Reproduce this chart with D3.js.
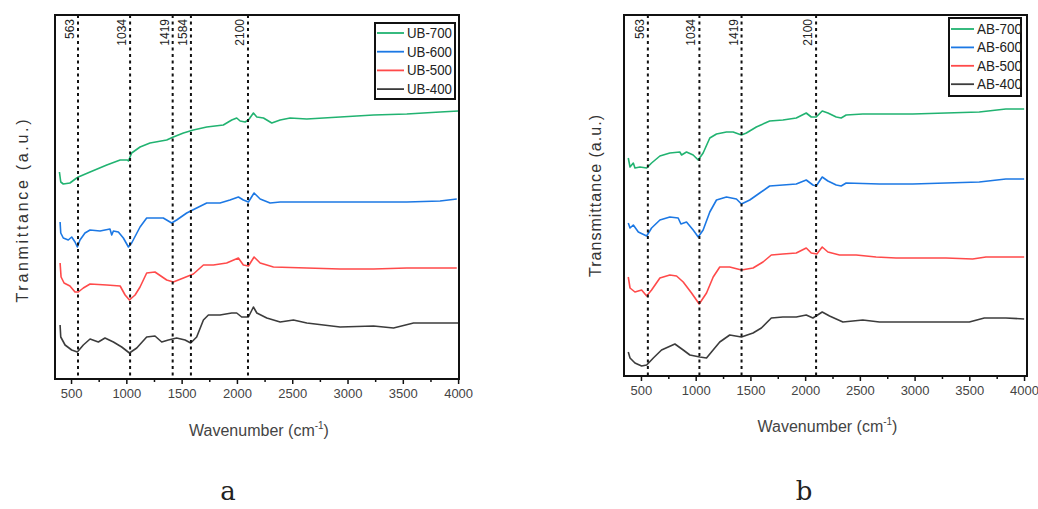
<!DOCTYPE html>
<html>
<head>
<meta charset="utf-8">
<script src="https://cdn.jsdelivr.net/npm/d3@7"></script>
<style>
  body { margin: 0; background: #fff; }
  svg { display: block; font-family: "Liberation Sans", Arial, sans-serif; }
</style>
</head>
<body>
<script>
// ---- data: [wavenumber, transmittance (a.u., offset)] ----
const ub700 = [[395,207],[407,197],[430,195],[490,196],[551,201],[566,202],[672,207],[823,214],[944,219],[1010,219],[1019,218],[1048,226],[1124,232],[1214,236],[1365,239],[1425,242],[1516,246],[1606,249],[1727,252],[1877,254],[1953,259],[1998,261],[2029,258],[2074,257],[2104,259],[2149,266],[2180,262],[2240,261],[2315,256],[2391,259],[2481,261],[2632,260],[2783,261],[2933,262],[3235,264],[3536,265],[3837,267],[4003,268]];
const ub600 = [[401,157],[407,146],[430,141],[475,139],[506,142],[536,137],[557,132],[581,139],[626,146],[672,149],[762,148],[852,150],[868,144],[883,148],[928,147],[973,141],[1019,132],[1048,136],[1124,152],[1184,161],[1244,161],[1334,161],[1410,156],[1455,159],[1546,166],[1636,171],[1727,176],[1847,176],[1937,179],[2013,182],[2058,179],[2104,177],[2155,186],[2210,180],[2300,176],[2391,177],[2632,177],[2933,177],[3235,177],[3536,177],[3837,178],[3988,180]];
const ub500 = [[401,116],[410,102],[437,96],[490,93],[536,87],[566,87],[611,91],[672,95],[823,94],[944,93],[989,84],[1028,79],[1079,84],[1124,92],[1184,106],[1259,107],[1365,99],[1425,97],[1516,101],[1606,105],[1697,114],[1787,114],[1907,116],[2013,121],[2058,114],[2104,113],[2155,122],[2210,116],[2330,112],[2632,111],[2933,110],[3235,110],[3536,111],[3837,111],[3988,111]];
const ub400 = [[401,54],[407,42],[446,34],[506,29],[557,27],[611,34],[672,40],[747,37],[807,41],[883,37],[958,32],[1028,26],[1094,31],[1184,42],[1259,43],[1320,37],[1380,39],[1455,41],[1531,39],[1582,36],[1636,42],[1697,59],[1742,64],[1847,64],[1953,66],[1998,66],[2043,62],[2104,62],[2149,72],[2180,66],[2270,61],[2391,57],[2511,59],[2632,56],[2933,52],[3235,53],[3416,51],[3597,56],[3837,56],[4003,56]];

const ab700 = [[384,218],[400,209],[430,213],[445,208],[491,209],[552,208],[597,213],[673,220],[764,223],[855,224],[871,221],[916,224],[977,221],[1023,216],[1068,223],[1129,238],[1190,242],[1281,244],[1342,244],[1418,241],[1463,243],[1554,249],[1676,255],[1797,256],[1919,258],[2010,263],[2056,259],[2101,259],[2156,265],[2208,263],[2284,259],[2329,258],[2375,261],[2527,262],[2679,262],[2831,262],[2983,262],[3287,263],[3591,264],[3834,267],[4001,267]];
const ab600 = [[384,153],[400,148],[430,151],[476,144],[552,140],[597,148],[673,156],[764,159],[840,158],[865,152],[916,154],[977,146],[1023,139],[1068,146],[1129,164],[1190,176],[1281,179],[1372,177],[1418,172],[1494,176],[1585,183],[1676,190],[1797,191],[1919,192],[2010,196],[2071,191],[2101,190],[2156,199],[2208,195],[2284,191],[2329,190],[2375,193],[2679,192],[2983,192],[3287,193],[3591,194],[3834,197],[4001,197]];
const ab500 = [[384,99],[400,88],[445,84],[506,86],[552,80],[597,86],[673,98],[764,101],[825,100],[886,94],[962,83],[1032,72],[1099,83],[1160,99],[1220,109],[1311,109],[1418,106],[1524,108],[1615,114],[1691,121],[1797,122],[1919,123],[2010,128],[2056,123],[2107,122],[2156,129],[2208,124],[2314,121],[2466,121],[2648,119],[2831,118],[3287,118],[3530,117],[3652,119],[4001,119]];
const ab400 = [[384,24],[400,18],[445,13],[506,10],[552,11],[613,18],[688,26],[810,32],[886,26],[947,21],[1038,19],[1099,18],[1144,24],[1220,34],[1311,41],[1418,39],[1524,43],[1600,48],[1691,58],[1797,59],[1919,59],[2010,61],[2071,58],[2156,64],[2223,60],[2345,54],[2527,56],[2679,54],[2983,54],[3287,54],[3500,54],[3637,58],[3834,58],[4001,57]];

const seriesNamesA = ['UB-700', 'UB-600', 'UB-500', 'UB-400'];
const seriesNamesB = ['AB-700', 'AB-600', 'AB-500', 'AB-400'];
const seriesColors = ['#21b371', '#1c78e4', '#ff4a4a', '#3c3c3c'];

const peaksA = [563, 1034, 1419, 1584, 2100];
const peaksB = [563, 1034, 1419, 2100];

const majorTicks = [500, 1000, 1500, 2000, 2500, 3000, 3500, 4000];
const minorTicks = [750, 1250, 1750, 2250, 2750, 3250, 3750];

const panels = [
  { series: [ub700, ub600, ub500, ub400], names: seriesNamesA, peaks: peaksA,
    xDomain: [355, 4008], yDomain: [0, 364],
    box: { l: 55, r: 459, t: 15, b: 379 },
    yTitle: 'Tranmittance (a.u.)', yTitleX: 25, yTitleY: 211, yTitleLen: 183,
    xTitleY: 436, tickY: 401,
    legend: { x: 375, y: 23, w: 80, h: 76, row0: 33, dy: 18.7, line: 27 },
    letter: 'a', letterX: 228 },
  { series: [ab700, ab600, ab500, ab400], names: seriesNamesB, peaks: peaksB,
    xDomain: [345, 4027], yDomain: [0, 361],
    box: { l: 624, r: 1027, t: 15, b: 376 },
    yTitle: 'Transmittance (a.u.)', yTitleX: 598, yTitleY: 196, yTitleLen: 162,
    xTitleY: 432, tickY: 398,
    legend: { x: 949, y: 18, w: 72, h: 78, row0: 29, dy: 18.4, line: 23 },
    letter: 'b', letterX: 804 }
];

const svg = d3.select('body').append('svg')
  .attr('width', 1038)
  .attr('height', 509);

panels.forEach((p) => {
  const { l, r, t, b } = p.box;
  const x = d3.scaleLinear().domain(p.xDomain).range([l, r]);
  const y = d3.scaleLinear().domain(p.yDomain).range([b, t]);
  const g = svg.append('g');

  // curves
  const line = d3.line().x((d) => x(d[0])).y((d) => y(d[1]));
  p.series.forEach((s, i) => {
    g.append('path')
      .datum(s)
      .attr('d', line)
      .attr('fill', 'none')
      .attr('stroke', seriesColors[i])
      .attr('stroke-width', 1.6)
      .attr('stroke-linejoin', 'round');
  });

  // dashed peak markers
  g.selectAll('.peak')
    .data(p.peaks)
    .join('line')
    .attr('class', 'peak')
    .attr('x1', (d) => x(d)).attr('x2', (d) => x(d))
    .attr('y1', t).attr('y2', b)
    .attr('stroke', '#111')
    .attr('stroke-width', 2)
    .attr('stroke-dasharray', '3,3.5');

  g.selectAll('.peak-label')
    .data(p.peaks)
    .join('text')
    .attr('class', 'peak-label')
    .attr('transform', (d) => `translate(${x(d) - 4},${t + 4}) rotate(-90)`)
    .attr('text-anchor', 'end')
    .attr('font-size', 12)
    .attr('fill', '#222')
    .text((d) => d);

  // x axis
  const axis = g.append('g').attr('transform', `translate(0,${b})`)
    .call(d3.axisBottom(x).tickValues(majorTicks).tickSize(5).tickPadding(5).tickFormat(d3.format('d')));
  axis.select('.domain').remove();
  axis.selectAll('line').attr('stroke', '#111').attr('stroke-width', 1.5);
  axis.selectAll('text')
    .attr('font-size', 13)
    .attr('fill', '#444')
    .attr('font-family', '"Liberation Sans", Arial, sans-serif');

  const minor = g.append('g').attr('transform', `translate(0,${b})`)
    .call(d3.axisBottom(x).tickValues(minorTicks).tickSize(3).tickFormat(''));
  minor.select('.domain').remove();
  minor.selectAll('line').attr('stroke', '#111').attr('stroke-width', 1.5);

  // frame
  g.append('rect')
    .attr('x', l).attr('y', t)
    .attr('width', r - l).attr('height', b - t)
    .attr('fill', 'none')
    .attr('stroke', '#111')
    .attr('stroke-width', 2);

  // legend
  const lg = p.legend;
  g.append('rect')
    .attr('x', lg.x).attr('y', lg.y)
    .attr('width', lg.w).attr('height', lg.h)
    .attr('fill', '#fff')
    .attr('stroke', '#111')
    .attr('stroke-width', 2);
  p.names.forEach((name, i) => {
    const ry = lg.row0 + i * lg.dy;
    g.append('line')
      .attr('x1', lg.x + 2).attr('x2', lg.x + 2 + lg.line)
      .attr('y1', ry).attr('y2', ry)
      .attr('stroke', seriesColors[i])
      .attr('stroke-width', 1.8);
    g.append('text')
      .attr('x', lg.x + lg.line + 5)
      .attr('y', ry + 5)
      .attr('font-size', 14)
      .attr('fill', '#222')
      .attr('textLength', 45)
      .attr('lengthAdjust', 'spacingAndGlyphs')
      .text(name);
  });

  // axis titles
  g.append('text')
    .attr('transform', `translate(${p.yTitleX + 3},${p.yTitleY}) rotate(-90)`)
    .attr('text-anchor', 'middle')
    .attr('font-size', 16)
    .attr('fill', '#333')
    .attr('textLength', p.yTitleLen)
    .attr('lengthAdjust', 'spacing')
    .text(p.yTitle);

  const xt = g.append('text')
    .attr('x', (l + r) / 2 + 2)
    .attr('y', p.xTitleY)
    .attr('text-anchor', 'middle')
    .attr('font-size', 16)
    .attr('fill', '#444');
  xt.append('tspan').text('Wavenumber (cm');
  xt.append('tspan').attr('font-size', 10).attr('dy', -7).text('-1');
  xt.append('tspan').attr('dy', 7).text(')');

  // panel letter
  svg.append('text')
    .attr('x', p.letterX)
    .attr('y', 500)
    .attr('text-anchor', 'middle')
    .attr('font-family', '"DejaVu Serif", "Liberation Serif", serif')
    .attr('font-size', 26)
    .attr('fill', '#222')
    .text(p.letter);
});
</script>
</body>
</html>
